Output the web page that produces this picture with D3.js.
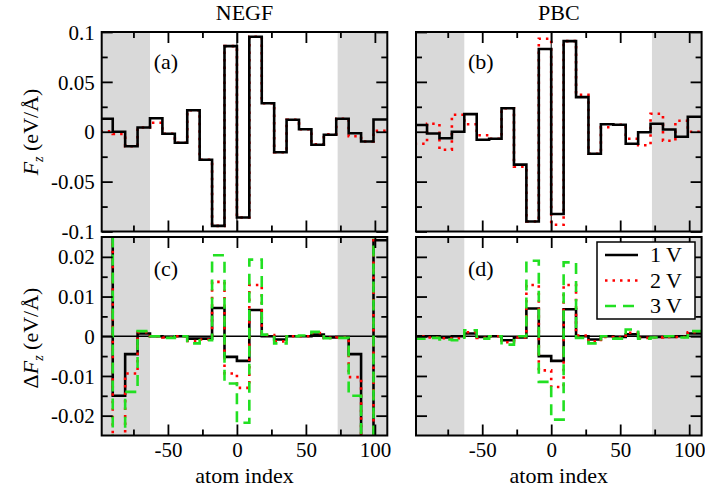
<!DOCTYPE html>
<html><head><meta charset="utf-8">
<script src="https://cdn.jsdelivr.net/npm/d3@7"></script>
<style>
body{margin:0;background:#fff}
svg{display:block}
text{font-family:"Liberation Serif","Times New Roman",serif;fill:#000}
</style>
</head><body>
<svg id="chart" width="705" height="489"></svg>
<script>
// ---------- data ----------
const stepEdges = [-99,-90,-81,-72,-63,-54,-45,-36,-27,-18,-9,0,9,18,27,36,45,54,63,72,81,90,99,112];
const xDomain = [-98, 109];
const xMajorTicks = [-50, 0, 50, 100];
const xTickLabels = ["-50", "0", "50", "100"];
const xMinorTicks = [-75, -25, 25, 75];
const leadRegions = [[-99, -63], [73, 112]];

const fzDomain = [-0.1, 0.1];
const fzMajor = [-0.1, -0.05, 0, 0.05, 0.1];
const fzLabels = ["-0.1", "-0.05", "0", "0.05", "0.1"];
const fzMinor = [-0.075, -0.025, 0.025, 0.075];

const dfzDomain = [-0.025, 0.025];
const dfzMajor = [-0.02, -0.01, 0, 0.01, 0.02];
const dfzLabels = ["-0.02", "-0.01", "0", "0.01", "0.02"];
const dfzMinor = [-0.015, -0.005, 0.005, 0.015];

const seriesNames = ["1 V", "2 V", "3 V"];
const columnTitles = ["NEGF", "PBC"];
const panelTags = ["(a)", "(b)", "(c)", "(d)"];

// (a) NEGF force
const negf1V = [0.013, 0.0, -0.0145, 0.0042, 0.0135, -0.002, -0.011, 0.0215, -0.028, -0.0944, 0.0858, -0.086, 0.0953, 0.0285, -0.0205, 0.012, 0.0025, -0.013, -0.003, 0.013, -0.0015, -0.0098, 0.0123];
const negf2V = [0.0005, -0.0022, -0.0145, 0.0042, 0.009, -0.002, -0.011, 0.0215, -0.028, -0.0944, 0.0858, -0.086, 0.0953, 0.0285, -0.0205, 0.012, 0.0025, -0.0125, -0.0025, 0.013, -0.0045, -0.0098, 0.001];
// (b) PBC force
const pbc1V = [0.0067, -0.0017, -0.0065, 0.0, 0.0177, -0.008, -0.007, 0.0235, -0.033, -0.09, 0.083, -0.0825, 0.0909, 0.0347, -0.022, 0.0075, 0.007, -0.012, -0.0005, 0.008, 0.0023, -0.005, 0.0151];
const pbc2V = [-0.012, 0.008, -0.018, 0.017, 0.0075, -0.0035, -0.007, 0.0235, -0.035, -0.09, 0.0933, -0.0933, 0.0909, 0.037, -0.022, 0.0045, 0.007, -0.007, -0.0135, 0.018, -0.009, 0.011, 0.0];
// (c) NEGF force difference
const dNegf1V = [0.03, -0.015, -0.0045, 0.0007, 0.0, -0.0002, 0.0, -0.0006, -0.0006, 0.0071, -0.0052, -0.0062, 0.0066, 0.0, -0.0008, 0.0, 0.0, 0.0004, -0.0003, -0.0002, -0.0045, -0.03, 0.0242];
const dNegf2V = [0.06, -0.03, -0.0094, 0.001, 0.0, -0.0003, 0.0, -0.0012, -0.0008, 0.0137, -0.0094, -0.013, 0.0129, 0.0003, -0.0013, 0.0, 0.0, 0.0008, -0.0004, -0.0003, -0.0103, -0.06, 0.05];
const dNegf3V = [0.09, -0.045, -0.014, 0.0013, 0.0, -0.0004, 0.0, -0.0018, -0.001, 0.0204, -0.0119, -0.0218, 0.0193, 0.0004, -0.0018, 0.0, 0.0002, 0.0011, -0.0005, -0.0004, -0.015, -0.09, 0.07];
// (d) PBC force difference
const dPbc1V = [0.0, 0.0, -0.0003, 0.0, 0.0007, -0.0002, 0.0, -0.001, -0.0003, 0.007, -0.005, -0.0062, 0.0068, 0.0, -0.0008, 0.0, -0.0002, 0.0005, -0.0002, -0.0002, -0.0002, 0.0, 0.0007];
const dPbc2V = [0.0, -0.0003, -0.0005, -0.0005, 0.001, -0.0004, 0.0, -0.0015, -0.0003, 0.0129, -0.0086, -0.0128, 0.0129, 0.0002, -0.0013, -0.0002, -0.0003, 0.0009, -0.0004, -0.0003, -0.0002, -0.0002, 0.001];
const dPbc3V = [-0.0006, -0.0004, -0.0008, -0.001, 0.0015, -0.0006, 0.0, -0.0021, 0.0, 0.019, -0.0115, -0.021, 0.0186, -0.0004, -0.0018, 0.0, -0.0006, 0.0017, -0.0006, -0.0003, 0.0, -0.0003, 0.0013];

// ---------- styles ----------
const styles = {
  "1 V": {stroke: "#000000", dash: null, width: 2.6},
  "2 V": {stroke: "#ff0000", dash: "2.5,5", width: 2.6},
  "3 V": {stroke: "#22e022", dash: "11,7", width: 2.6}
};
const MAJ = 11, MIN = 6;

const svg = d3.select("#chart");

const panels = [
  {tag: panelTags[0], box: {x: 101.7, y: 32, w: 285.6, h: 199.5}, yDom: fzDomain, yMaj: fzMajor, yLab: fzLabels, yMin: fzMinor, showY: true, showX: false, vZero: true,
    series: [["2 V", negf2V], ["1 V", negf1V]]},
  {tag: panelTags[1], box: {x: 416, y: 32, w: 285.6, h: 199.5}, yDom: fzDomain, yMaj: fzMajor, yLab: fzLabels, yMin: fzMinor, showY: false, showX: false, vZero: true,
    series: [["2 V", pbc2V], ["1 V", pbc1V]]},
  {tag: panelTags[2], box: {x: 101.7, y: 237, w: 285.6, h: 198.5}, yDom: dfzDomain, yMaj: dfzMajor, yLab: dfzLabels, yMin: dfzMinor, showY: true, showX: true, hZero: true,
    series: [["1 V", dNegf1V], ["2 V", dNegf2V], ["3 V", dNegf3V]]},
  {tag: panelTags[3], box: {x: 416, y: 237, w: 285.6, h: 198.5}, yDom: dfzDomain, yMaj: dfzMajor, yLab: dfzLabels, yMin: dfzMinor, showY: false, showX: true, hZero: true,
    series: [["1 V", dPbc1V], ["2 V", dPbc2V], ["3 V", dPbc3V]]}
];

const defs = svg.append("defs");

panels.forEach((p, pi) => {
  const b = p.box;
  const x = d3.scaleLinear().domain(xDomain).range([0, b.w]);
  const y = d3.scaleLinear().domain(p.yDom).range([b.h, 0]);
  const g = svg.append("g").attr("transform", `translate(${b.x},${b.y})`);
  const cid = "clip" + pi;
  defs.append("clipPath").attr("id", cid).append("rect").attr("width", b.w).attr("height", b.h);
  const plot = g.append("g").attr("clip-path", `url(#${cid})`);

  plot.selectAll("rect.lead").data(leadRegions).join("rect")
    .attr("x", d => x(d[0])).attr("width", d => x(d[1]) - x(d[0]))
    .attr("y", 0).attr("height", b.h).attr("fill", "#d9d9d9");

  if (p.vZero) {
    plot.append("line").attr("x1", x(0)).attr("x2", x(0)).attr("y1", 0).attr("y2", b.h)
      .attr("stroke", "#000").attr("stroke-width", 1);
  }
  if (p.hZero) {
    plot.append("line").attr("x1", 0).attr("x2", b.w).attr("y1", y(0)).attr("y2", y(0))
      .attr("stroke", "#000").attr("stroke-width", 1.5);
  }

  const line = d3.line().x(d => x(d[0])).y(d => y(d[1])).curve(d3.curveStepAfter);
  p.series.forEach(([name, vals]) => {
    const pts = vals.map((v, i) => [stepEdges[i], v]);
    pts.push([stepEdges[vals.length], vals[vals.length - 1]]);
    const s = styles[name];
    plot.append("path").datum(pts).attr("d", line)
      .attr("fill", "none").attr("stroke", s.stroke).attr("stroke-width", s.width)
      .attr("stroke-dasharray", s.dash).attr("stroke-linejoin", "miter");
  });

  const axStyle = sel => { sel.select(".domain").remove(); sel.selectAll("line").attr("stroke", "#000").attr("stroke-width", 1.8); };
  g.append("g").attr("transform", `translate(0,${b.h})`)
    .call(d3.axisBottom(x).tickValues(xMajorTicks).tickSize(-MAJ).tickFormat((d, i) => p.showX ? xTickLabels[i] : ""))
    .call(axStyle)
    .call(sel => sel.selectAll("text").attr("y", 21).attr("dy", 0).attr("font-size", 21).attr("font-family", "Liberation Serif"));
  g.append("g").attr("transform", `translate(0,${b.h})`)
    .call(d3.axisBottom(x).tickValues(xMinorTicks).tickSize(-MIN).tickFormat("")).call(axStyle);
  g.append("g").call(d3.axisTop(x).tickValues(xMajorTicks).tickSize(-MAJ).tickFormat("")).call(axStyle);
  g.append("g").call(d3.axisTop(x).tickValues(xMinorTicks).tickSize(-MIN).tickFormat("")).call(axStyle);
  g.append("g")
    .call(d3.axisLeft(y).tickValues(p.yMaj).tickSize(-MAJ).tickPadding(7).tickFormat((d, i) => p.showY ? p.yLab[i] : ""))
    .call(axStyle)
    .call(sel => sel.selectAll("text").attr("font-size", 21).attr("font-family", "Liberation Serif").attr("dy", "0.34em"));
  g.append("g").call(d3.axisLeft(y).tickValues(p.yMin).tickSize(-MIN).tickFormat("")).call(axStyle);
  g.append("g").attr("transform", `translate(${b.w},0)`)
    .call(d3.axisRight(y).tickValues(p.yMaj).tickSize(-MAJ).tickFormat("")).call(axStyle);
  g.append("g").attr("transform", `translate(${b.w},0)`)
    .call(d3.axisRight(y).tickValues(p.yMin).tickSize(-MIN).tickFormat("")).call(axStyle);

  g.append("rect").attr("width", b.w).attr("height", b.h).attr("fill", "none")
    .attr("stroke", "#000").attr("stroke-width", 2);

  g.append("text").attr("x", 52).attr("y", pi < 2 ? 37 : 39).attr("font-size", 22).text(p.tag);

  if (p.showX) {
    g.append("text").attr("x", b.w / 2).attr("y", b.h + 47).attr("text-anchor", "middle")
      .attr("font-size", 22).text("atom index");
  }
});

columnTitles.forEach((t, i) => {
  const b = panels[i].box;
  svg.append("text").attr("x", b.x + b.w / 2).attr("y", 20).attr("text-anchor", "middle")
    .attr("font-size", 22).text(t);
});

function yTitle(cy, delta) {
  const t = svg.append("text").attr("transform", `translate(38,${cy}) rotate(-90)`)
    .attr("text-anchor", "middle").attr("font-size", 22);
  if (delta) t.append("tspan").text("\u0394");
  t.append("tspan").attr("font-style", "italic").text("F");
  t.append("tspan").attr("font-style", "italic").attr("font-size", 14).attr("dy", 5).text("z");
  t.append("tspan").attr("dy", -5).text(" (eV/\u00C5)");
}
yTitle(132, false);
yTitle(338, true);

const lg = svg.append("g").attr("transform", "translate(597,242)");
lg.append("rect").attr("width", 98).attr("height", 77).attr("fill", "#fff")
  .attr("stroke", "#000").attr("stroke-width", 1.5);
seriesNames.forEach((n, i) => {
  const yy = 13 + i * 25.5;
  const s = styles[n];
  lg.append("line").attr("x1", 8).attr("x2", 41).attr("y1", yy).attr("y2", yy)
    .attr("stroke", s.stroke).attr("stroke-width", s.width).attr("stroke-dasharray", s.dash);
  lg.append("text").attr("x", 53).attr("y", yy + 7).attr("font-size", 22).text(n);
});
</script>
</body></html>
